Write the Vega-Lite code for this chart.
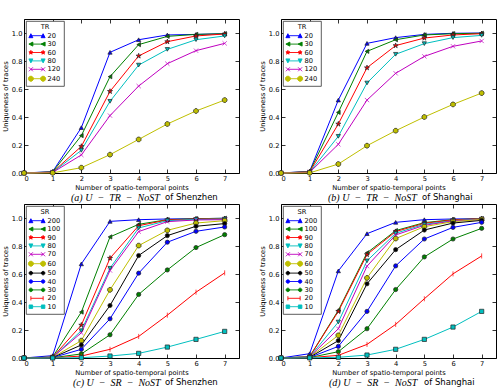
{
  "$schema": "https://vega.github.io/schema/vega-lite/v6.json",
  "padding": {"left": 1, "top": 18, "right": 0, "bottom": 0},
  "datasets": {
    "traces": [
      {"p":"a","s":"20","x":0,"u":0},{"p":"a","s":"20","x":1,"u":0.01},{"p":"a","s":"20","x":2,"u":0.324},{"p":"a","s":"20","x":3,"u":0.862},{"p":"a","s":"20","x":4,"u":0.952},{"p":"a","s":"20","x":5,"u":0.986},{"p":"a","s":"20","x":6,"u":0.99},{"p":"a","s":"20","x":7,"u":0.995},
      {"p":"a","s":"30","x":0,"u":0},{"p":"a","s":"30","x":1,"u":0.008},{"p":"a","s":"30","x":2,"u":0.267},{"p":"a","s":"30","x":3,"u":0.688},{"p":"a","s":"30","x":4,"u":0.917},{"p":"a","s":"30","x":5,"u":0.976},{"p":"a","s":"30","x":6,"u":0.99},{"p":"a","s":"30","x":7,"u":0.995},
      {"p":"a","s":"60","x":0,"u":0},{"p":"a","s":"60","x":1,"u":0.006},{"p":"a","s":"60","x":2,"u":0.19},{"p":"a","s":"60","x":3,"u":0.583},{"p":"a","s":"60","x":4,"u":0.836},{"p":"a","s":"60","x":5,"u":0.938},{"p":"a","s":"60","x":6,"u":0.979},{"p":"a","s":"60","x":7,"u":0.993},
      {"p":"a","s":"80","x":0,"u":0},{"p":"a","s":"80","x":1,"u":0.005},{"p":"a","s":"80","x":2,"u":0.162},{"p":"a","s":"80","x":3,"u":0.512},{"p":"a","s":"80","x":4,"u":0.771},{"p":"a","s":"80","x":5,"u":0.883},{"p":"a","s":"80","x":6,"u":0.952},{"p":"a","s":"80","x":7,"u":0.979},
      {"p":"a","s":"120","x":0,"u":0},{"p":"a","s":"120","x":1,"u":0.004},{"p":"a","s":"120","x":2,"u":0.129},{"p":"a","s":"120","x":3,"u":0.41},{"p":"a","s":"120","x":4,"u":0.621},{"p":"a","s":"120","x":5,"u":0.781},{"p":"a","s":"120","x":6,"u":0.874},{"p":"a","s":"120","x":7,"u":0.926},
      {"p":"a","s":"240","x":0,"u":0},{"p":"a","s":"240","x":1,"u":0.001},{"p":"a","s":"240","x":2,"u":0.038},{"p":"a","s":"240","x":3,"u":0.131},{"p":"a","s":"240","x":4,"u":0.24},{"p":"a","s":"240","x":5,"u":0.35},{"p":"a","s":"240","x":6,"u":0.443},{"p":"a","s":"240","x":7,"u":0.521},

      {"p":"b","s":"20","x":0,"u":0},{"p":"b","s":"20","x":1,"u":0.012},{"p":"b","s":"20","x":2,"u":0.521},{"p":"b","s":"20","x":3,"u":0.926},{"p":"b","s":"20","x":4,"u":0.967},{"p":"b","s":"20","x":5,"u":0.99},{"p":"b","s":"20","x":6,"u":0.998},{"p":"b","s":"20","x":7,"u":1.0},
      {"p":"b","s":"30","x":0,"u":0},{"p":"b","s":"30","x":1,"u":0.01},{"p":"b","s":"30","x":2,"u":0.433},{"p":"b","s":"30","x":3,"u":0.869},{"p":"b","s":"30","x":4,"u":0.952},{"p":"b","s":"30","x":5,"u":0.986},{"p":"b","s":"30","x":6,"u":0.995},{"p":"b","s":"30","x":7,"u":0.998},
      {"p":"b","s":"60","x":0,"u":0},{"p":"b","s":"60","x":1,"u":0.008},{"p":"b","s":"60","x":2,"u":0.35},{"p":"b","s":"60","x":3,"u":0.752},{"p":"b","s":"60","x":4,"u":0.91},{"p":"b","s":"60","x":5,"u":0.964},{"p":"b","s":"60","x":6,"u":0.986},{"p":"b","s":"60","x":7,"u":0.995},
      {"p":"b","s":"80","x":0,"u":0},{"p":"b","s":"80","x":1,"u":0.006},{"p":"b","s":"80","x":2,"u":0.262},{"p":"b","s":"80","x":3,"u":0.643},{"p":"b","s":"80","x":4,"u":0.848},{"p":"b","s":"80","x":5,"u":0.924},{"p":"b","s":"80","x":6,"u":0.967},{"p":"b","s":"80","x":7,"u":0.983},
      {"p":"b","s":"120","x":0,"u":0},{"p":"b","s":"120","x":1,"u":0.005},{"p":"b","s":"120","x":2,"u":0.205},{"p":"b","s":"120","x":3,"u":0.521},{"p":"b","s":"120","x":4,"u":0.712},{"p":"b","s":"120","x":5,"u":0.833},{"p":"b","s":"120","x":6,"u":0.905},{"p":"b","s":"120","x":7,"u":0.943},
      {"p":"b","s":"240","x":0,"u":0},{"p":"b","s":"240","x":1,"u":0.001},{"p":"b","s":"240","x":2,"u":0.064},{"p":"b","s":"240","x":3,"u":0.195},{"p":"b","s":"240","x":4,"u":0.302},{"p":"b","s":"240","x":5,"u":0.4},{"p":"b","s":"240","x":6,"u":0.49},{"p":"b","s":"240","x":7,"u":0.571},

      {"p":"c","s":"200","x":0,"u":0},{"p":"c","s":"200","x":1,"u":0.017},{"p":"c","s":"200","x":2,"u":0.672},{"p":"c","s":"200","x":3,"u":0.976},{"p":"c","s":"200","x":4,"u":0.988},{"p":"c","s":"200","x":5,"u":0.993},{"p":"c","s":"200","x":6,"u":0.995},{"p":"c","s":"200","x":7,"u":0.998},
      {"p":"c","s":"100","x":0,"u":0},{"p":"c","s":"100","x":1,"u":0.007},{"p":"c","s":"100","x":2,"u":0.328},{"p":"c","s":"100","x":3,"u":0.865},{"p":"c","s":"100","x":4,"u":0.955},{"p":"c","s":"100","x":5,"u":0.988},{"p":"c","s":"100","x":6,"u":0.995},{"p":"c","s":"100","x":7,"u":0.998},
      {"p":"c","s":"90","x":0,"u":0},{"p":"c","s":"90","x":1,"u":0.006},{"p":"c","s":"90","x":2,"u":0.235},{"p":"c","s":"90","x":3,"u":0.713},{"p":"c","s":"90","x":4,"u":0.945},{"p":"c","s":"90","x":5,"u":0.986},{"p":"c","s":"90","x":6,"u":0.993},{"p":"c","s":"90","x":7,"u":0.995},
      {"p":"c","s":"80","x":0,"u":0},{"p":"c","s":"80","x":1,"u":0.005},{"p":"c","s":"80","x":2,"u":0.195},{"p":"c","s":"80","x":3,"u":0.641},{"p":"c","s":"80","x":4,"u":0.929},{"p":"c","s":"80","x":5,"u":0.981},{"p":"c","s":"80","x":6,"u":0.99},{"p":"c","s":"80","x":7,"u":0.993},
      {"p":"c","s":"70","x":0,"u":0},{"p":"c","s":"70","x":1,"u":0.005},{"p":"c","s":"70","x":2,"u":0.18},{"p":"c","s":"70","x":3,"u":0.625},{"p":"c","s":"70","x":4,"u":0.903},{"p":"c","s":"70","x":5,"u":0.974},{"p":"c","s":"70","x":6,"u":0.986},{"p":"c","s":"70","x":7,"u":0.988},
      {"p":"c","s":"60","x":0,"u":0},{"p":"c","s":"60","x":1,"u":0.004},{"p":"c","s":"60","x":2,"u":0.124},{"p":"c","s":"60","x":3,"u":0.487},{"p":"c","s":"60","x":4,"u":0.803},{"p":"c","s":"60","x":5,"u":0.912},{"p":"c","s":"60","x":6,"u":0.964},{"p":"c","s":"60","x":7,"u":0.981},
      {"p":"c","s":"50","x":0,"u":0},{"p":"c","s":"50","x":1,"u":0.003},{"p":"c","s":"50","x":2,"u":0.093},{"p":"c","s":"50","x":3,"u":0.375},{"p":"c","s":"50","x":4,"u":0.732},{"p":"c","s":"50","x":5,"u":0.874},{"p":"c","s":"50","x":6,"u":0.941},{"p":"c","s":"50","x":7,"u":0.96},
      {"p":"c","s":"40","x":0,"u":0},{"p":"c","s":"40","x":1,"u":0.003},{"p":"c","s":"40","x":2,"u":0.062},{"p":"c","s":"40","x":3,"u":0.28},{"p":"c","s":"40","x":4,"u":0.606},{"p":"c","s":"40","x":5,"u":0.827},{"p":"c","s":"40","x":6,"u":0.905},{"p":"c","s":"40","x":7,"u":0.936},
      {"p":"c","s":"30","x":0,"u":0},{"p":"c","s":"30","x":1,"u":0.002},{"p":"c","s":"30","x":2,"u":0.029},{"p":"c","s":"30","x":3,"u":0.166},{"p":"c","s":"30","x":4,"u":0.454},{"p":"c","s":"30","x":5,"u":0.629},{"p":"c","s":"30","x":6,"u":0.789},{"p":"c","s":"30","x":7,"u":0.881},
      {"p":"c","s":"20","x":0,"u":0},{"p":"c","s":"20","x":1,"u":0.001},{"p":"c","s":"20","x":2,"u":0.014},{"p":"c","s":"20","x":3,"u":0.062},{"p":"c","s":"20","x":4,"u":0.154},{"p":"c","s":"20","x":5,"u":0.306},{"p":"c","s":"20","x":6,"u":0.47},{"p":"c","s":"20","x":7,"u":0.608},
      {"p":"c","s":"10","x":0,"u":0},{"p":"c","s":"10","x":1,"u":0.0},{"p":"c","s":"10","x":2,"u":0.002},{"p":"c","s":"10","x":3,"u":0.014},{"p":"c","s":"10","x":4,"u":0.033},{"p":"c","s":"10","x":5,"u":0.078},{"p":"c","s":"10","x":6,"u":0.133},{"p":"c","s":"10","x":7,"u":0.19},

      {"p":"d","s":"200","x":0,"u":0},{"p":"d","s":"200","x":1,"u":0.031},{"p":"d","s":"200","x":2,"u":0.622},{"p":"d","s":"200","x":3,"u":0.888},{"p":"d","s":"200","x":4,"u":0.969},{"p":"d","s":"200","x":5,"u":0.988},{"p":"d","s":"200","x":6,"u":0.993},{"p":"d","s":"200","x":7,"u":0.995},
      {"p":"d","s":"100","x":0,"u":0},{"p":"d","s":"100","x":1,"u":0.01},{"p":"d","s":"100","x":2,"u":0.34},{"p":"d","s":"100","x":3,"u":0.751},{"p":"d","s":"100","x":4,"u":0.91},{"p":"d","s":"100","x":5,"u":0.967},{"p":"d","s":"100","x":6,"u":0.988},{"p":"d","s":"100","x":7,"u":0.995},
      {"p":"d","s":"90","x":0,"u":0},{"p":"d","s":"90","x":1,"u":0.009},{"p":"d","s":"90","x":2,"u":0.333},{"p":"d","s":"90","x":3,"u":0.739},{"p":"d","s":"90","x":4,"u":0.903},{"p":"d","s":"90","x":5,"u":0.962},{"p":"d","s":"90","x":6,"u":0.986},{"p":"d","s":"90","x":7,"u":0.995},
      {"p":"d","s":"80","x":0,"u":0},{"p":"d","s":"80","x":1,"u":0.008},{"p":"d","s":"80","x":2,"u":0.257},{"p":"d","s":"80","x":3,"u":0.694},{"p":"d","s":"80","x":4,"u":0.891},{"p":"d","s":"80","x":5,"u":0.955},{"p":"d","s":"80","x":6,"u":0.981},{"p":"d","s":"80","x":7,"u":0.993},
      {"p":"d","s":"70","x":0,"u":0},{"p":"d","s":"70","x":1,"u":0.007},{"p":"d","s":"70","x":2,"u":0.209},{"p":"d","s":"70","x":3,"u":0.656},{"p":"d","s":"70","x":4,"u":0.879},{"p":"d","s":"70","x":5,"u":0.948},{"p":"d","s":"70","x":6,"u":0.979},{"p":"d","s":"70","x":7,"u":0.99},
      {"p":"d","s":"60","x":0,"u":0},{"p":"d","s":"60","x":1,"u":0.006},{"p":"d","s":"60","x":2,"u":0.162},{"p":"d","s":"60","x":3,"u":0.572},{"p":"d","s":"60","x":4,"u":0.853},{"p":"d","s":"60","x":5,"u":0.938},{"p":"d","s":"60","x":6,"u":0.974},{"p":"d","s":"60","x":7,"u":0.99},
      {"p":"d","s":"50","x":0,"u":0},{"p":"d","s":"50","x":1,"u":0.005},{"p":"d","s":"50","x":2,"u":0.124},{"p":"d","s":"50","x":3,"u":0.53},{"p":"d","s":"50","x":4,"u":0.774},{"p":"d","s":"50","x":5,"u":0.914},{"p":"d","s":"50","x":6,"u":0.964},{"p":"d","s":"50","x":7,"u":0.983},
      {"p":"d","s":"40","x":0,"u":0},{"p":"d","s":"40","x":1,"u":0.004},{"p":"d","s":"40","x":2,"u":0.083},{"p":"d","s":"40","x":3,"u":0.333},{"p":"d","s":"40","x":4,"u":0.658},{"p":"d","s":"40","x":5,"u":0.85},{"p":"d","s":"40","x":6,"u":0.933},{"p":"d","s":"40","x":7,"u":0.969},
      {"p":"d","s":"30","x":0,"u":0},{"p":"d","s":"30","x":1,"u":0.003},{"p":"d","s":"30","x":2,"u":0.045},{"p":"d","s":"30","x":3,"u":0.209},{"p":"d","s":"30","x":4,"u":0.489},{"p":"d","s":"30","x":5,"u":0.722},{"p":"d","s":"30","x":6,"u":0.85},{"p":"d","s":"30","x":7,"u":0.926},
      {"p":"d","s":"20","x":0,"u":0},{"p":"d","s":"20","x":1,"u":0.002},{"p":"d","s":"20","x":2,"u":0.019},{"p":"d","s":"20","x":3,"u":0.097},{"p":"d","s":"20","x":4,"u":0.24},{"p":"d","s":"20","x":5,"u":0.423},{"p":"d","s":"20","x":6,"u":0.601},{"p":"d","s":"20","x":7,"u":0.729},
      {"p":"d","s":"10","x":0,"u":0},{"p":"d","s":"10","x":1,"u":0.001},{"p":"d","s":"10","x":2,"u":0.005},{"p":"d","s":"10","x":3,"u":0.021},{"p":"d","s":"10","x":4,"u":0.062},{"p":"d","s":"10","x":5,"u":0.133},{"p":"d","s":"10","x":6,"u":0.221},{"p":"d","s":"10","x":7,"u":0.333}
    ]
  },
  "vconcat": [
    {
      "hconcat": [
        {
          "title": {"text": "of Shenzhen", "orient": "bottom", "anchor": "start", "frame": "group", "font": "DejaVu Sans", "fontSize": 8.5, "fontWeight": "normal", "dx": 141, "dy": -11, "offset": 0},
          "vconcat": [{
            "width": 215, "height": 154,
            "title": {"text": "(a) U\u2002−\u2002TR\u2002−\u2002NoST", "orient": "bottom", "anchor": "start", "frame": "group", "font": "Liberation Serif", "fontStyle": "italic", "fontSize": 10, "fontWeight": "normal", "dx": 47, "offset": 2},
            "data": {"name": "traces"},
            "transform": [{"filter": "datum.p === 'a'"}],
            "layer": [
              {"mark": {"type": "line", "strokeWidth": 1},
               "encoding": {
                 "x": {"field": "x", "type": "quantitative", "scale": {"domain": [0, 7.5], "nice": false}, "axis": {"orient": "bottom", "values": [0,1,2,3,4,5,6,7], "title": "Number of spatio-temporal points"}},
                 "y": {"field": "u", "type": "quantitative", "scale": {"domain": [0, 1.1], "nice": false}, "axis": {"orient": "left", "values": [0,0.2,0.4,0.6,0.8,1.0], "format": ".1f", "title": "Uniqueness of traces"}},
                 "color": {"field": "s", "type": "nominal", "scale": {"domain": ["20","30","60","80","120","240"], "range": ["#0000ff","#008000","#ff0000","#00bfbf","#bf00bf","#bfbf00"]}, "legend": null}}},
              {"mark": {"type": "point", "filled": true, "size": 18, "strokeWidth": 0.7, "opacity": 1},
               "encoding": {
                 "x": {"field": "x", "type": "quantitative", "axis": null},
                 "y": {"field": "u", "type": "quantitative", "axis": null},
                 "color": {"field": "s", "type": "nominal", "scale": {"domain": ["20","30","60","80","120","240"], "range": ["#0000ff","#008000","#ff0000","#00bfbf","#bf00bf","#bfbf00"]}, "legend": null},
                 "stroke": {"field": "s", "type": "nominal", "scale": {"domain": ["20","30","60","80","120","240"], "range": ["#222222","#222222","#222222","#222222","#bf00bf","#222222"]}, "legend": null},
                 "shape": {"field": "s", "type": "nominal", "scale": {"domain": ["20","30","60","80","120","240"], "range": ["triangle-up","triangle-left","M0,-1.25L0.279,-0.384L1.189,-0.386L0.451,0.146L0.735,1.011L0,0.475L-0.735,1.011L-0.451,0.146L-1.189,-0.386L-0.279,-0.384Z","triangle-down","M-1,-1L1,1M-1,1L1,-1","M1.109,0.459L0.459,1.109L-0.459,1.109L-1.109,0.459L-1.109,-0.459L-0.459,-1.109L0.459,-1.109L1.109,-0.459Z"]}, "legend": null}}},
              {"mark": {"type": "point", "filled": true, "opacity": 0},
               "encoding": {
                 "x": {"field": "x", "type": "quantitative", "axis": {"orient": "top", "values": [0,1,2,3,4,5,6,7], "labels": false, "title": null}},
                 "y": {"field": "u", "type": "quantitative", "axis": {"orient": "right", "values": [0,0.2,0.4,0.6,0.8,1.0], "labels": false, "title": null}},
                 "color": {"field": "s", "type": "nominal", "scale": {"domain": ["20","30","60","80","120","240"], "range": ["#0000ff","#008000","#ff0000","#00bfbf","#bf00bf","#bfbf00"]}, "legend": {"title": "TR"}},
                 "stroke": {"field": "s", "type": "nominal", "scale": {"domain": ["20","30","60","80","120","240"], "range": ["#0000ff","#008000","#ff0000","#00bfbf","#bf00bf","#bfbf00"]}, "legend": {"title": "TR"}},
                 "shape": {"field": "s", "type": "nominal", "scale": {"domain": ["20","30","60","80","120","240"], "range": [
                   "M-1.75,0L1.75,0M-1.75,-0.57L-1.18,0.57L-2.32,0.57ZM1.75,-0.57L2.32,0.57L1.18,0.57Z",
                   "M-1.75,0L1.75,0M-2.32,0L-1.18,-0.57L-1.18,0.57ZM1.18,0L2.32,-0.57L2.32,0.57Z",
                   "M-1.75,0L1.75,0M-1.75,-0.6L-1.616,-0.184L-1.179,-0.185L-1.533,0.07L-1.397,0.485L-1.75,0.228L-2.103,0.485L-1.967,0.07L-2.321,-0.185L-1.884,-0.184ZM1.75,-0.6L1.884,-0.184L2.321,-0.185L1.967,0.07L2.103,0.485L1.75,0.228L1.397,0.485L1.533,0.07L1.179,-0.185L1.616,-0.184Z",
                   "M-1.75,0L1.75,0M-1.75,0.57L-1.18,-0.57L-2.32,-0.57ZM1.75,0.57L2.32,-0.57L1.18,-0.57Z",
                   "M-1.75,0L1.75,0M-2.32,-0.57L-1.18,0.57M-2.32,0.57L-1.18,-0.57M1.18,-0.57L2.32,0.57M1.18,0.57L2.32,-0.57",
                   "M-1.75,0L1.75,0M-1.057,0.287L-1.463,0.693L-2.037,0.693L-2.443,0.287L-2.443,-0.287L-2.037,-0.693L-1.463,-0.693L-1.057,-0.287ZM2.443,0.287L2.037,0.693L1.463,0.693L1.057,0.287L1.057,-0.287L1.463,-0.693L2.037,-0.693L2.443,-0.287Z"
                 ]}, "legend": {"title": "TR"}}}}
            ],
            "resolve": {"scale": {"color": "independent", "stroke": "independent", "shape": "independent"}, "axis": {"x": "independent", "y": "independent"}}
          }]
        },
        {
          "title": {"text": "of Shanghai", "orient": "bottom", "anchor": "start", "frame": "group", "font": "DejaVu Sans", "fontSize": 8.5, "fontWeight": "normal", "dx": 141, "dy": -11, "offset": 0},
          "vconcat": [{
            "width": 215, "height": 154,
            "title": {"text": "(b) U\u2002−\u2002TR\u2002−\u2002NoST", "orient": "bottom", "anchor": "start", "frame": "group", "font": "Liberation Serif", "fontStyle": "italic", "fontSize": 10, "fontWeight": "normal", "dx": 47, "offset": 2},
            "data": {"name": "traces"},
            "transform": [{"filter": "datum.p === 'b'"}],
            "layer": [
              {"mark": {"type": "line", "strokeWidth": 1},
               "encoding": {
                 "x": {"field": "x", "type": "quantitative", "scale": {"domain": [0, 7.5], "nice": false}, "axis": {"orient": "bottom", "values": [0,1,2,3,4,5,6,7], "title": "Number of spatio-temporal points"}},
                 "y": {"field": "u", "type": "quantitative", "scale": {"domain": [0, 1.1], "nice": false}, "axis": {"orient": "left", "values": [0,0.2,0.4,0.6,0.8,1.0], "format": ".1f", "title": "Uniqueness of traces"}},
                 "color": {"field": "s", "type": "nominal", "scale": {"domain": ["20","30","60","80","120","240"], "range": ["#0000ff","#008000","#ff0000","#00bfbf","#bf00bf","#bfbf00"]}, "legend": null}}},
              {"mark": {"type": "point", "filled": true, "size": 18, "strokeWidth": 0.7, "opacity": 1},
               "encoding": {
                 "x": {"field": "x", "type": "quantitative", "axis": null},
                 "y": {"field": "u", "type": "quantitative", "axis": null},
                 "color": {"field": "s", "type": "nominal", "scale": {"domain": ["20","30","60","80","120","240"], "range": ["#0000ff","#008000","#ff0000","#00bfbf","#bf00bf","#bfbf00"]}, "legend": null},
                 "stroke": {"field": "s", "type": "nominal", "scale": {"domain": ["20","30","60","80","120","240"], "range": ["#222222","#222222","#222222","#222222","#bf00bf","#222222"]}, "legend": null},
                 "shape": {"field": "s", "type": "nominal", "scale": {"domain": ["20","30","60","80","120","240"], "range": ["triangle-up","triangle-left","M0,-1.25L0.279,-0.384L1.189,-0.386L0.451,0.146L0.735,1.011L0,0.475L-0.735,1.011L-0.451,0.146L-1.189,-0.386L-0.279,-0.384Z","triangle-down","M-1,-1L1,1M-1,1L1,-1","M1.109,0.459L0.459,1.109L-0.459,1.109L-1.109,0.459L-1.109,-0.459L-0.459,-1.109L0.459,-1.109L1.109,-0.459Z"]}, "legend": null}}},
              {"mark": {"type": "point", "filled": true, "opacity": 0},
               "encoding": {
                 "x": {"field": "x", "type": "quantitative", "axis": {"orient": "top", "values": [0,1,2,3,4,5,6,7], "labels": false, "title": null}},
                 "y": {"field": "u", "type": "quantitative", "axis": {"orient": "right", "values": [0,0.2,0.4,0.6,0.8,1.0], "labels": false, "title": null}},
                 "color": {"field": "s", "type": "nominal", "scale": {"domain": ["20","30","60","80","120","240"], "range": ["#0000ff","#008000","#ff0000","#00bfbf","#bf00bf","#bfbf00"]}, "legend": {"title": "TR"}},
                 "stroke": {"field": "s", "type": "nominal", "scale": {"domain": ["20","30","60","80","120","240"], "range": ["#0000ff","#008000","#ff0000","#00bfbf","#bf00bf","#bfbf00"]}, "legend": {"title": "TR"}},
                 "shape": {"field": "s", "type": "nominal", "scale": {"domain": ["20","30","60","80","120","240"], "range": [
                   "M-1.75,0L1.75,0M-1.75,-0.57L-1.18,0.57L-2.32,0.57ZM1.75,-0.57L2.32,0.57L1.18,0.57Z",
                   "M-1.75,0L1.75,0M-2.32,0L-1.18,-0.57L-1.18,0.57ZM1.18,0L2.32,-0.57L2.32,0.57Z",
                   "M-1.75,0L1.75,0M-1.75,-0.6L-1.616,-0.184L-1.179,-0.185L-1.533,0.07L-1.397,0.485L-1.75,0.228L-2.103,0.485L-1.967,0.07L-2.321,-0.185L-1.884,-0.184ZM1.75,-0.6L1.884,-0.184L2.321,-0.185L1.967,0.07L2.103,0.485L1.75,0.228L1.397,0.485L1.533,0.07L1.179,-0.185L1.616,-0.184Z",
                   "M-1.75,0L1.75,0M-1.75,0.57L-1.18,-0.57L-2.32,-0.57ZM1.75,0.57L2.32,-0.57L1.18,-0.57Z",
                   "M-1.75,0L1.75,0M-2.32,-0.57L-1.18,0.57M-2.32,0.57L-1.18,-0.57M1.18,-0.57L2.32,0.57M1.18,0.57L2.32,-0.57",
                   "M-1.75,0L1.75,0M-1.057,0.287L-1.463,0.693L-2.037,0.693L-2.443,0.287L-2.443,-0.287L-2.037,-0.693L-1.463,-0.693L-1.057,-0.287ZM2.443,0.287L2.037,0.693L1.463,0.693L1.057,0.287L1.057,-0.287L1.463,-0.693L2.037,-0.693L2.443,-0.287Z"
                 ]}, "legend": {"title": "TR"}}}}
            ],
            "resolve": {"scale": {"color": "independent", "stroke": "independent", "shape": "independent"}, "axis": {"x": "independent", "y": "independent"}}
          }]
        }
      ]
    },
    {
      "hconcat": [
        {
          "title": {"text": "of Shenzhen", "orient": "bottom", "anchor": "start", "frame": "group", "font": "DejaVu Sans", "fontSize": 8.5, "fontWeight": "normal", "dx": 141, "dy": -11, "offset": 0},
          "vconcat": [{
            "width": 215, "height": 154,
            "title": {"text": "(c) U\u2002−\u2002SR\u2002−\u2002NoST", "orient": "bottom", "anchor": "start", "frame": "group", "font": "Liberation Serif", "fontStyle": "italic", "fontSize": 10, "fontWeight": "normal", "dx": 49, "offset": 2},
            "data": {"name": "traces"},
            "transform": [{"filter": "datum.p === 'c'"}],
            "layer": [
              {"mark": {"type": "line", "strokeWidth": 1},
               "encoding": {
                 "x": {"field": "x", "type": "quantitative", "scale": {"domain": [0, 7.5], "nice": false}, "axis": {"orient": "bottom", "values": [0,1,2,3,4,5,6,7], "title": "Number of spatio-temporal points"}},
                 "y": {"field": "u", "type": "quantitative", "scale": {"domain": [0, 1.1], "nice": false}, "axis": {"orient": "left", "values": [0,0.2,0.4,0.6,0.8,1.0], "format": ".1f", "title": "Uniqueness of traces"}},
                 "color": {"field": "s", "type": "nominal", "scale": {"domain": ["200","100","90","80","70","60","50","40","30","20","10"], "range": ["#0000ff","#008000","#ff0000","#00bfbf","#bf00bf","#bfbf00","#000000","#0000ff","#008000","#ff0000","#00bfbf"]}, "legend": null}}},
              {"mark": {"type": "point", "filled": true, "size": 18, "strokeWidth": 0.7, "opacity": 1},
               "encoding": {
                 "x": {"field": "x", "type": "quantitative", "axis": null},
                 "y": {"field": "u", "type": "quantitative", "axis": null},
                 "color": {"field": "s", "type": "nominal", "scale": {"domain": ["200","100","90","80","70","60","50","40","30","20","10"], "range": ["#0000ff","#008000","#ff0000","#00bfbf","#bf00bf","#bfbf00","#000000","#0000ff","#008000","#ff0000","#00bfbf"]}, "legend": null},
                 "stroke": {"field": "s", "type": "nominal", "scale": {"domain": ["200","100","90","80","70","60","50","40","30","20","10"], "range": ["#222222","#222222","#222222","#222222","#bf00bf","#222222","#222222","#222222","#222222","#ff0000","#222222"]}, "legend": null},
                 "shape": {"field": "s", "type": "nominal", "scale": {"domain": ["200","100","90","80","70","60","50","40","30","20","10"], "range": ["triangle-up","triangle-left","M0,-1.25L0.279,-0.384L1.189,-0.386L0.451,0.146L0.735,1.011L0,0.475L-0.735,1.011L-0.451,0.146L-1.189,-0.386L-0.279,-0.384Z","triangle-down","M-1,-1L1,1M-1,1L1,-1","M1.109,0.459L0.459,1.109L-0.459,1.109L-1.109,0.459L-1.109,-0.459L-0.459,-1.109L0.459,-1.109L1.109,-0.459Z","circle","circle","circle","M0,-1.2L0,1.2","square"]}, "legend": null}}},
              {"mark": {"type": "point", "filled": true, "opacity": 0},
               "encoding": {
                 "x": {"field": "x", "type": "quantitative", "axis": {"orient": "top", "values": [0,1,2,3,4,5,6,7], "labels": false, "title": null}},
                 "y": {"field": "u", "type": "quantitative", "axis": {"orient": "right", "values": [0,0.2,0.4,0.6,0.8,1.0], "labels": false, "title": null}},
                 "color": {"field": "s", "type": "nominal", "scale": {"domain": ["200","100","90","80","70","60","50","40","30","20","10"], "range": ["#0000ff","#008000","#ff0000","#00bfbf","#bf00bf","#bfbf00","#000000","#0000ff","#008000","#ff0000","#00bfbf"]}, "legend": {"title": "SR"}},
                 "stroke": {"field": "s", "type": "nominal", "scale": {"domain": ["200","100","90","80","70","60","50","40","30","20","10"], "range": ["#0000ff","#008000","#ff0000","#00bfbf","#bf00bf","#bfbf00","#000000","#0000ff","#008000","#ff0000","#00bfbf"]}, "legend": {"title": "SR"}},
                 "shape": {"field": "s", "type": "nominal", "scale": {"domain": ["200","100","90","80","70","60","50","40","30","20","10"], "range": [
                   "M-1.75,0L1.75,0M-1.75,-0.57L-1.18,0.57L-2.32,0.57ZM1.75,-0.57L2.32,0.57L1.18,0.57Z",
                   "M-1.75,0L1.75,0M-2.32,0L-1.18,-0.57L-1.18,0.57ZM1.18,0L2.32,-0.57L2.32,0.57Z",
                   "M-1.75,0L1.75,0M-1.75,-0.6L-1.616,-0.184L-1.179,-0.185L-1.533,0.07L-1.397,0.485L-1.75,0.228L-2.103,0.485L-1.967,0.07L-2.321,-0.185L-1.884,-0.184ZM1.75,-0.6L1.884,-0.184L2.321,-0.185L1.967,0.07L2.103,0.485L1.75,0.228L1.397,0.485L1.533,0.07L1.179,-0.185L1.616,-0.184Z",
                   "M-1.75,0L1.75,0M-1.75,0.57L-1.18,-0.57L-2.32,-0.57ZM1.75,0.57L2.32,-0.57L1.18,-0.57Z",
                   "M-1.75,0L1.75,0M-2.32,-0.57L-1.18,0.57M-2.32,0.57L-1.18,-0.57M1.18,-0.57L2.32,0.57M1.18,0.57L2.32,-0.57",
                   "M-1.75,0L1.75,0M-1.057,0.287L-1.463,0.693L-2.037,0.693L-2.443,0.287L-2.443,-0.287L-2.037,-0.693L-1.463,-0.693L-1.057,-0.287ZM2.443,0.287L2.037,0.693L1.463,0.693L1.057,0.287L1.057,-0.287L1.463,-0.693L2.037,-0.693L2.443,-0.287Z",
                   "M-1.75,0L1.75,0M-1.25,0A0.5,0.5,0,1,1,-2.25,0A0.5,0.5,0,1,1,-1.25,0ZM2.25,0A0.5,0.5,0,1,1,1.25,0A0.5,0.5,0,1,1,2.25,0Z",
                   "M-1.75,0L1.75,0M-1.25,0A0.5,0.5,0,1,1,-2.25,0A0.5,0.5,0,1,1,-1.25,0ZM2.25,0A0.5,0.5,0,1,1,1.25,0A0.5,0.5,0,1,1,2.25,0Z",
                   "M-1.75,0L1.75,0M-1.25,0A0.5,0.5,0,1,1,-2.25,0A0.5,0.5,0,1,1,-1.25,0ZM2.25,0A0.5,0.5,0,1,1,1.25,0A0.5,0.5,0,1,1,2.25,0Z",
                   "M-1.75,0L1.75,0M-1.75,-0.6L-1.75,0.6M1.75,-0.6L1.75,0.6",
                   "M-1.75,0L1.75,0M-2.25,-0.5L-1.25,-0.5L-1.25,0.5L-2.25,0.5ZM1.25,-0.5L2.25,-0.5L2.25,0.5L1.25,0.5Z"
                 ]}, "legend": {"title": "SR"}}}}
            ],
            "resolve": {"scale": {"color": "independent", "stroke": "independent", "shape": "independent"}, "axis": {"x": "independent", "y": "independent"}}
          }]
        },
        {
          "title": {"text": "of Shanghai", "orient": "bottom", "anchor": "start", "frame": "group", "font": "DejaVu Sans", "fontSize": 8.5, "fontWeight": "normal", "dx": 143, "dy": -11, "offset": 0},
          "vconcat": [{
            "width": 215, "height": 154,
            "title": {"text": "(d) U\u2002−\u2002SR\u2002−\u2002NoST", "orient": "bottom", "anchor": "start", "frame": "group", "font": "Liberation Serif", "fontStyle": "italic", "fontSize": 10, "fontWeight": "normal", "dx": 48, "offset": 2},
            "data": {"name": "traces"},
            "transform": [{"filter": "datum.p === 'd'"}],
            "layer": [
              {"mark": {"type": "line", "strokeWidth": 1},
               "encoding": {
                 "x": {"field": "x", "type": "quantitative", "scale": {"domain": [0, 7.5], "nice": false}, "axis": {"orient": "bottom", "values": [0,1,2,3,4,5,6,7], "title": "Number of spatio-temporal points"}},
                 "y": {"field": "u", "type": "quantitative", "scale": {"domain": [0, 1.1], "nice": false}, "axis": {"orient": "left", "values": [0,0.2,0.4,0.6,0.8,1.0], "format": ".1f", "title": "Uniqueness of traces"}},
                 "color": {"field": "s", "type": "nominal", "scale": {"domain": ["200","100","90","80","70","60","50","40","30","20","10"], "range": ["#0000ff","#008000","#ff0000","#00bfbf","#bf00bf","#bfbf00","#000000","#0000ff","#008000","#ff0000","#00bfbf"]}, "legend": null}}},
              {"mark": {"type": "point", "filled": true, "size": 18, "strokeWidth": 0.7, "opacity": 1},
               "encoding": {
                 "x": {"field": "x", "type": "quantitative", "axis": null},
                 "y": {"field": "u", "type": "quantitative", "axis": null},
                 "color": {"field": "s", "type": "nominal", "scale": {"domain": ["200","100","90","80","70","60","50","40","30","20","10"], "range": ["#0000ff","#008000","#ff0000","#00bfbf","#bf00bf","#bfbf00","#000000","#0000ff","#008000","#ff0000","#00bfbf"]}, "legend": null},
                 "stroke": {"field": "s", "type": "nominal", "scale": {"domain": ["200","100","90","80","70","60","50","40","30","20","10"], "range": ["#222222","#222222","#222222","#222222","#bf00bf","#222222","#222222","#222222","#222222","#ff0000","#222222"]}, "legend": null},
                 "shape": {"field": "s", "type": "nominal", "scale": {"domain": ["200","100","90","80","70","60","50","40","30","20","10"], "range": ["triangle-up","triangle-left","M0,-1.25L0.279,-0.384L1.189,-0.386L0.451,0.146L0.735,1.011L0,0.475L-0.735,1.011L-0.451,0.146L-1.189,-0.386L-0.279,-0.384Z","triangle-down","M-1,-1L1,1M-1,1L1,-1","M1.109,0.459L0.459,1.109L-0.459,1.109L-1.109,0.459L-1.109,-0.459L-0.459,-1.109L0.459,-1.109L1.109,-0.459Z","circle","circle","circle","M0,-1.2L0,1.2","square"]}, "legend": null}}},
              {"mark": {"type": "point", "filled": true, "opacity": 0},
               "encoding": {
                 "x": {"field": "x", "type": "quantitative", "axis": {"orient": "top", "values": [0,1,2,3,4,5,6,7], "labels": false, "title": null}},
                 "y": {"field": "u", "type": "quantitative", "axis": {"orient": "right", "values": [0,0.2,0.4,0.6,0.8,1.0], "labels": false, "title": null}},
                 "color": {"field": "s", "type": "nominal", "scale": {"domain": ["200","100","90","80","70","60","50","40","30","20","10"], "range": ["#0000ff","#008000","#ff0000","#00bfbf","#bf00bf","#bfbf00","#000000","#0000ff","#008000","#ff0000","#00bfbf"]}, "legend": {"title": "SR"}},
                 "stroke": {"field": "s", "type": "nominal", "scale": {"domain": ["200","100","90","80","70","60","50","40","30","20","10"], "range": ["#0000ff","#008000","#ff0000","#00bfbf","#bf00bf","#bfbf00","#000000","#0000ff","#008000","#ff0000","#00bfbf"]}, "legend": {"title": "SR"}},
                 "shape": {"field": "s", "type": "nominal", "scale": {"domain": ["200","100","90","80","70","60","50","40","30","20","10"], "range": [
                   "M-1.75,0L1.75,0M-1.75,-0.57L-1.18,0.57L-2.32,0.57ZM1.75,-0.57L2.32,0.57L1.18,0.57Z",
                   "M-1.75,0L1.75,0M-2.32,0L-1.18,-0.57L-1.18,0.57ZM1.18,0L2.32,-0.57L2.32,0.57Z",
                   "M-1.75,0L1.75,0M-1.75,-0.6L-1.616,-0.184L-1.179,-0.185L-1.533,0.07L-1.397,0.485L-1.75,0.228L-2.103,0.485L-1.967,0.07L-2.321,-0.185L-1.884,-0.184ZM1.75,-0.6L1.884,-0.184L2.321,-0.185L1.967,0.07L2.103,0.485L1.75,0.228L1.397,0.485L1.533,0.07L1.179,-0.185L1.616,-0.184Z",
                   "M-1.75,0L1.75,0M-1.75,0.57L-1.18,-0.57L-2.32,-0.57ZM1.75,0.57L2.32,-0.57L1.18,-0.57Z",
                   "M-1.75,0L1.75,0M-2.32,-0.57L-1.18,0.57M-2.32,0.57L-1.18,-0.57M1.18,-0.57L2.32,0.57M1.18,0.57L2.32,-0.57",
                   "M-1.75,0L1.75,0M-1.057,0.287L-1.463,0.693L-2.037,0.693L-2.443,0.287L-2.443,-0.287L-2.037,-0.693L-1.463,-0.693L-1.057,-0.287ZM2.443,0.287L2.037,0.693L1.463,0.693L1.057,0.287L1.057,-0.287L1.463,-0.693L2.037,-0.693L2.443,-0.287Z",
                   "M-1.75,0L1.75,0M-1.25,0A0.5,0.5,0,1,1,-2.25,0A0.5,0.5,0,1,1,-1.25,0ZM2.25,0A0.5,0.5,0,1,1,1.25,0A0.5,0.5,0,1,1,2.25,0Z",
                   "M-1.75,0L1.75,0M-1.25,0A0.5,0.5,0,1,1,-2.25,0A0.5,0.5,0,1,1,-1.25,0ZM2.25,0A0.5,0.5,0,1,1,1.25,0A0.5,0.5,0,1,1,2.25,0Z",
                   "M-1.75,0L1.75,0M-1.25,0A0.5,0.5,0,1,1,-2.25,0A0.5,0.5,0,1,1,-1.25,0ZM2.25,0A0.5,0.5,0,1,1,1.25,0A0.5,0.5,0,1,1,2.25,0Z",
                   "M-1.75,0L1.75,0M-1.75,-0.6L-1.75,0.6M1.75,-0.6L1.75,0.6",
                   "M-1.75,0L1.75,0M-2.25,-0.5L-1.25,-0.5L-1.25,0.5L-2.25,0.5ZM1.25,-0.5L2.25,-0.5L2.25,0.5L1.25,0.5Z"
                 ]}, "legend": {"title": "SR"}}}}
            ],
            "resolve": {"scale": {"color": "independent", "stroke": "independent", "shape": "independent"}, "axis": {"x": "independent", "y": "independent"}}
          }]
        }
      ]
    }
  ],
  "spacing": -7,
  "config": {
    "font": "DejaVu Sans",
    "view": {"stroke": "black", "strokeWidth": 1},
    "concat": {"spacing": 18},
    "axis": {"grid": false, "domain": false, "tickSize": -4, "tickColor": "black", "tickWidth": 0.8, "labelFontSize": 6.7, "labelColor": "black", "labelPadding": 6, "titleFontSize": 6.7, "titleFontWeight": "normal", "titleColor": "black", "titlePadding": 3},
    "legend": {"orient": "top-left", "offset": 2, "padding": 3, "fillColor": "white", "strokeColor": "#333333", "strokeWidth": 0.8, "titleFontSize": 6.7, "titleFontWeight": "normal", "titleColor": "black", "titleAnchor": "middle", "titlePadding": 1, "labelFontSize": 6.7, "labelColor": "black", "symbolSize": 49, "symbolStrokeWidth": 0.9, "symbolOpacity": 1, "symbolOffset": 4, "labelOffset": 6.5, "rowPadding": 0.4},
    "title": {"color": "black"}
  }
}
